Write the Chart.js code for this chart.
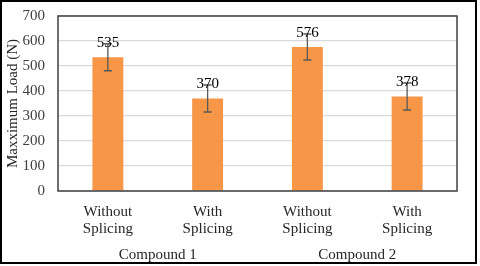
<!DOCTYPE html>
<html>
<head>
<meta charset="utf-8">
<script src="https://cdn.jsdelivr.net/npm/chart.js@4/dist/chart.umd.min.js"></script>
<style>
  html, body { margin: 0; padding: 0; background: #fff; }
  #wrap { width: 480px; height: 266px; }
</style>
</head>
<body>
<div id="wrap"><canvas id="chart" width="480" height="266"></canvas></div>
<script>
// data
const categories = [['Without', 'Splicing'], ['With', 'Splicing'], ['Without', 'Splicing'], ['With', 'Splicing']];
const groups = ['Compound 1', 'Compound 2'];
const loads = [535, 370, 576, 378];
const loadErrors = [54, 54, 52, 54];
const yTicks = [0, 100, 200, 300, 400, 500, 600, 700];

const serif = '"Liberation Serif", "Times New Roman", serif';

// error bars, value labels and frames
const extras = {
    id: 'extras',
    afterDatasetsDraw(chart) {
        const ctx = chart.ctx;
        const y = chart.scales.y;
        const meta = chart.getDatasetMeta(0);
        ctx.save();
        ctx.strokeStyle = '#595959';
        ctx.lineWidth = 1.3;
        meta.data.forEach((bar, i) => {
            const top = y.getPixelForValue(loads[i] + loadErrors[i]);
            const bot = y.getPixelForValue(loads[i] - loadErrors[i]);
            ctx.beginPath();
            ctx.moveTo(bar.x, top); ctx.lineTo(bar.x, bot);
            ctx.moveTo(bar.x - 4, top); ctx.lineTo(bar.x + 4, top);
            ctx.moveTo(bar.x - 4, bot); ctx.lineTo(bar.x + 4, bot);
            ctx.stroke();
        });
        ctx.fillStyle = '#000';
        ctx.font = '15px ' + serif;
        ctx.textAlign = 'center';
        ctx.textBaseline = 'middle';
        meta.data.forEach((bar, i) => {
            ctx.fillText(String(loads[i]), bar.x, bar.y - 14);
        });
        const a = chart.chartArea;
        ctx.strokeStyle = '#404040';
        ctx.lineWidth = 1.5;
        ctx.strokeRect(a.left, a.top, a.right - a.left, a.bottom - a.top);
        ctx.strokeStyle = '#000';
        ctx.lineWidth = 2;
        ctx.strokeRect(1, 1, 475, 262);
        ctx.restore();
    }
};

new Chart(document.getElementById('chart'), {
    type: 'bar',
    data: {
        labels: categories,
        datasets: [{
            data: loads,
            backgroundColor: '#F79646',
            barPercentage: 0.31,
            categoryPercentage: 1
        }]
    },
    options: {
        responsive: false,
        animation: false,
        layout: { padding: { left: 0, right: 23, top: 16, bottom: 3 } },
        plugins: { legend: { display: false }, tooltip: { enabled: false } },
        scales: {
            y: {
                min: 0,
                max: 700,
                afterBuildTicks: axis => { axis.ticks = yTicks.map(v => ({ value: v })); },
                afterFit: axis => { axis.width = 58; axis.paddingTop = 0; axis.paddingBottom = 0; },
                grid: { color: '#d9d9d9', lineWidth: 1.3, drawTicks: false },
                border: { display: false },
                ticks: { color: '#404040', padding: 13, font: { family: serif, size: 15 } },
                title: { display: true, text: 'Maxximum Load (N)', color: '#262626', padding: { top: 4, bottom: 0 }, font: { family: serif, size: 15 } }
            },
            x: {
                grid: { display: false },
                border: { display: false },
                afterFit: axis => { axis.height = 46; },
                ticks: { color: '#262626', padding: 4, font: { family: serif, size: 15, lineHeight: 1.15 } }
            },
            x2: {
                type: 'category',
                position: 'bottom',
                labels: groups,
                offset: true,
                grid: { display: false },
                border: { display: false },
                afterFit: axis => { axis.height = 26; },
                ticks: { color: '#262626', padding: 1, font: { family: serif, size: 15 } }
            }
        }
    },
    plugins: [extras]
});
</script>
</body>
</html>
